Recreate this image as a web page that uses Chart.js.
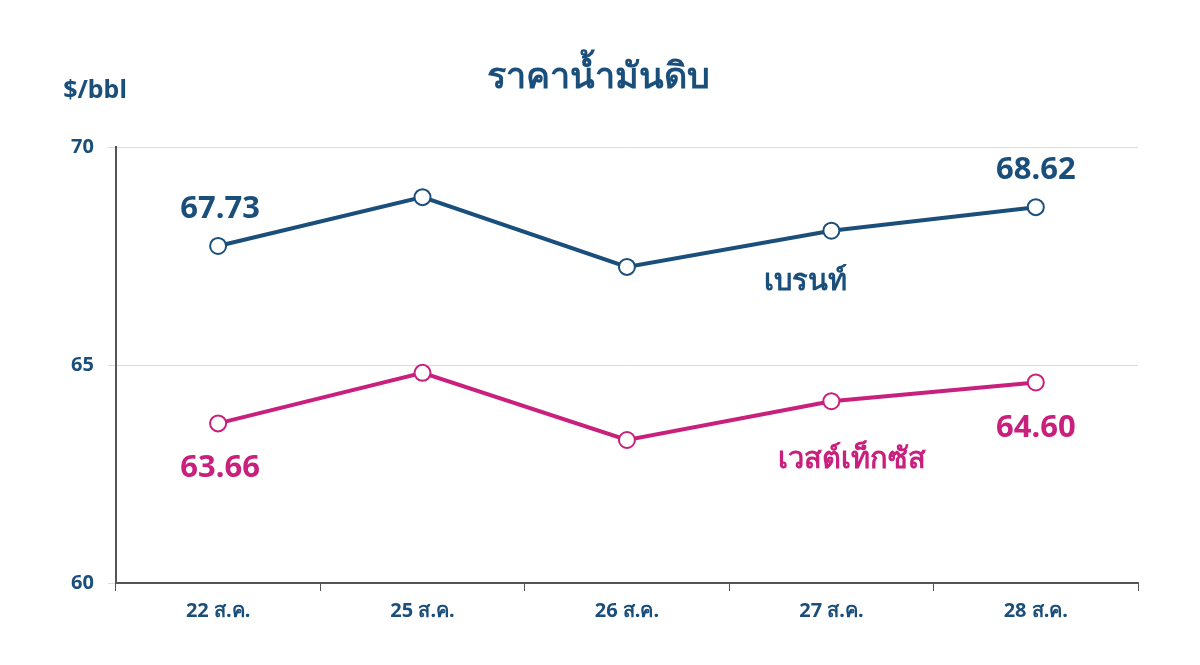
<!DOCTYPE html>
<html>
<head>
<meta charset="utf-8">
<script src="https://cdn.jsdelivr.net/npm/chart.js@4"></script>
<style>body{margin:0;background:#fff}</style>
</head>
<body>
<canvas id="c" width="1200" height="665"></canvas>
<script>
const labels = ['22 ส.ค.', '25 ส.ค.', '26 ส.ค.', '27 ส.ค.', '28 ส.ค.'];
const brent = [67.73, 68.85, 67.25, 68.08, 68.62];
const wti = [63.66, 64.82, 63.28, 64.17, 64.60];
const BLUE = '#1b4f7b', PINK = '#c8207c';
const FONT = "'Noto Sans', 'DejaVu Sans', sans-serif";

// value labels and series names
const notes = {
  id: 'notes',
  afterDatasetsDraw(chart) {
    const {ctx, scales: {x, y}} = chart;
    ctx.save();
    ctx.font = 'bold 31px ' + FONT;
    ctx.textAlign = 'center';
    ctx.fillStyle = BLUE;
    ctx.fillText(brent[0].toFixed(2), x.getPixelForValue(0) + 2, y.getPixelForValue(brent[0]) - 28);
    ctx.fillText(brent[4].toFixed(2), x.getPixelForValue(4), y.getPixelForValue(brent[4]) - 28);
    ctx.fillStyle = PINK;
    ctx.fillText(wti[0].toFixed(2), x.getPixelForValue(0) + 2, y.getPixelForValue(wti[0]) + 54);
    ctx.fillText(wti[4].toFixed(2), x.getPixelForValue(4), y.getPixelForValue(wti[4]) + 55);
    ctx.font = 'bold 29px ' + FONT;
    ctx.fillStyle = BLUE;
    ctx.fillText('เบรนท์', 805, 290);
    ctx.fillStyle = PINK;
    ctx.fillText('เวสต์เท็กซัส', 852, 468);
    ctx.font = 'bold 36px ' + FONT;
    ctx.fillStyle = BLUE;
    ctx.fillText('ราคาน้ำมันดิบ', 598, 88);
    ctx.font = 'bold 25px ' + FONT;
    ctx.fillText('$/bbl', 95, 98);
    ctx.restore();
  }
};

new Chart(document.getElementById('c'), {
  type: 'line',
  data: {
    labels: labels,
    datasets: [
      {data: brent, borderColor: BLUE, borderWidth: 4, pointBackgroundColor: '#fff', pointBorderColor: BLUE, pointBorderWidth: 2, pointRadius: 8},
      {data: wti, borderColor: PINK, borderWidth: 4, pointBackgroundColor: '#fff', pointBorderColor: PINK, pointBorderWidth: 2, pointRadius: 8}
    ]
  },
  options: {
    responsive: false,
    animation: false,
    layout: {padding: {left: 57, right: 62, top: 147, bottom: 34}},
    plugins: {legend: {display: false}, tooltip: {enabled: false}},
    scales: {
      x: {
        offset: true,
        grid: {offset: true, drawOnChartArea: false, color: '#555', tickLength: 8},
        border: {color: '#555', width: 2},
        ticks: {color: BLUE, font: {family: FONT, size: 20, weight: 'bold'}, padding: 8}
      },
      y: {
        min: 60, max: 70,
        ticks: {stepSize: 5, color: BLUE, font: {family: FONT, size: 20, weight: 'bold'}, padding: 14},
        grid: {color: '#dddddd', tickLength: 8},
        border: {color: '#555', width: 2}
      }
    }
  },
  plugins: [notes]
});
</script>
</body>
</html>
